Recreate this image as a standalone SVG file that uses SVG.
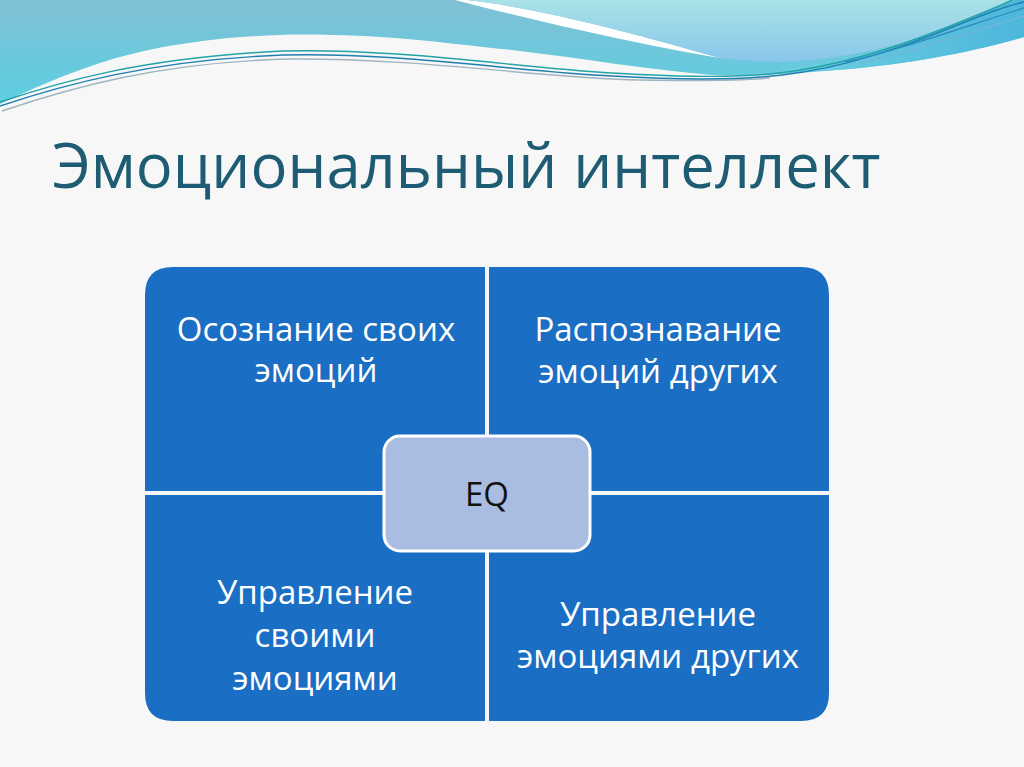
<svg xmlns="http://www.w3.org/2000/svg" width="1024" height="767" viewBox="0 0 1024 767">
<defs>
<linearGradient id="gLeft" x1="0" y1="0" x2="0" y2="1">
<stop offset="0" stop-color="#80C1D6"/>
<stop offset="1" stop-color="#5CCEE0"/>
</linearGradient>
<linearGradient id="gCyan" x1="0" y1="0" x2="0" y2="1">
<stop offset="0" stop-color="#A9E2E6"/>
<stop offset="1" stop-color="#8AC6EC"/>
</linearGradient>
<linearGradient id="gBand" x1="0" y1="0" x2="1" y2="0">
<stop offset="0" stop-color="#6FD0E0"/>
<stop offset="1" stop-color="#4DB6DC"/>
</linearGradient>
<style>
.q{fill:#1A6EC3;}
.qt{font-family:"Open Sans","Noto Sans",sans-serif;font-size:33px;fill:#FFFFFF;text-anchor:middle;}
.title{font-family:"Open Sans","Noto Sans",sans-serif;font-size:61.5px;fill:#1D5C72;}
.line{fill:none;stroke-width:1.4;}
</style>
</defs>
<rect x="0" y="0" width="1024" height="767" fill="#F7F7F7"/>
<g id="header">
<path d="M0,0 H1024 V37 C 980,50 920,62 860,68 C 800,74 740,76 712,75 C 650,70 580,58 512,50 C 450,44 400,36 333,35 C 250,32 160,43 100,63 C 60,76 30,90 0,104 Z" fill="url(#gLeft)"/>
<path d="M455,0 H467 C 540,8 640,35 720,58 C 640,45 540,22 455,0 Z" fill="#FFFFFF"/>
<path d="M467,0 H1012 C 980,20 940,34 912,40 C 870,52 830,60 779,62 C 760,62 740,60 720,58 C 640,35 540,8 467,0 Z" fill="url(#gCyan)"/>
<path d="M1012,0 H1024 V37 C 980,50 920,62 860,68 C 830,71 800,72 779,71 C 830,64 870,54 912,40 C 950,28 985,12 1012,0 Z" fill="url(#gBand)"/>
<path class="line" stroke="#9FB4BE" d="M2,111 C 70,88 160,62 290,59 C 420,58 540,78 640,80 C 700,81 740,81 770,78"/>
<path class="line" stroke="#1F7FB0" d="M0,106 C 60,86 150,60 283,55 C 400,52 520,72 612,76 C 680,80 740,80 782,75 C 845,68 905,46 950,28 C 980,16 1005,6 1024,2"/>
<path class="line" stroke="#22A3A8" d="M0,102 C 60,82 140,58 283,51 C 400,48 520,68 612,73 C 680,77 740,78 779,73 C 840,66 900,46 945,28 C 975,16 1000,6 1012,0"/>
<path class="line" stroke="#2F8EC0" d="M845,62 C 900,50 960,28 1024,8"/>
<path class="line" stroke="#6FB8D8" d="M860,63 C 920,50 970,32 1024,16"/>
</g>
<g id="title">
<text class="title" x="52" y="188">Эмоциональный интеллект</text>
</g>
<g id="connectors"></g>
<g id="q1">
<path class="q" d="M485,267 V491 H145 V295 Q145,267 173,267 Z"/>
<text class="qt" x="316" y="341">Осознание своих</text>
<text class="qt" x="316" y="382">эмоций</text>
</g>
<g id="q2">
<path class="q" d="M489,267 H801 Q829,267 829,295 V491 H489 Z"/>
<text class="qt" x="658" y="341">Распознавание</text>
<text class="qt" x="658" y="383">эмоций других</text>
</g>
<g id="q3">
<path class="q" d="M145,495 H485 V721 H173 Q145,721 145,693 Z"/>
<text class="qt" x="315" y="604">Управление</text>
<text class="qt" x="315" y="647">своими</text>
<text class="qt" x="315" y="690">эмоциями</text>
</g>
<g id="q4">
<path class="q" d="M489,495 H829 V693 Q829,721 801,721 H489 Z"/>
<text class="qt" x="658" y="626">Управление</text>
<text class="qt" x="658" y="668">эмоциями других</text>
</g>
<g id="eq">
<rect x="384" y="436" width="206" height="115" rx="16" fill="#A9BCE1" stroke="#FFFFFF" stroke-width="3"/>
<text x="487" y="506" font-family="'Open Sans','Noto Sans',sans-serif" font-size="33" fill="#111111" text-anchor="middle">EQ</text>
</g>
</svg>
